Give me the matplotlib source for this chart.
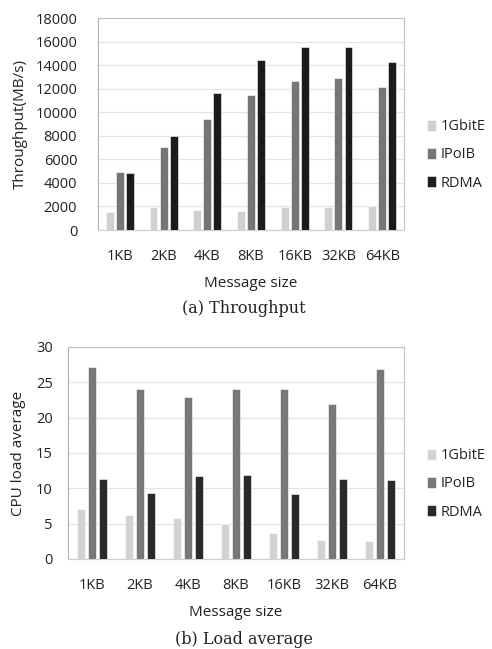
import matplotlib
matplotlib.use("Agg")
import matplotlib.pyplot as plt
import numpy as np

categories = ["1KB", "2KB", "4KB", "8KB", "16KB", "32KB", "64KB"]
series_names = ["1GbitE", "IPoIB", "RDMA"]

thr_1gbite = [1500, 1980, 1700, 1600, 1980, 1980, 2040]
thr_ipoib = [4900, 7080, 9460, 11470, 12630, 12890, 12150]
thr_rdma = [4850, 7990, 11590, 14400, 15500, 15500, 14280]

load_1gbite = [7.07, 6.26, 5.84, 4.9, 3.67, 2.68, 2.54]
load_ipoib = [27.2, 24.0, 22.9, 24.0, 24.1, 21.9, 26.9]
load_rdma = [11.26, 9.37, 11.73, 11.82, 9.18, 11.26, 11.16]

colors_a = ["#d0d0d0", "#767676", "#1b1b1b"]
colors_b = ["#d3d3d3", "#777777", "#2a2a2a"]

plt.rcParams['font.family'] = ['Open Sans', 'DejaVu Sans']

fig = plt.figure(figsize=(4.92, 6.49), dpi=100)
ax1 = fig.add_axes([98/492, 1-230/649, 306/492, 212/649])
ax2 = fig.add_axes([68/492, 1-559/649, 336/492, 212/649])

def draw(ax, data, colors, ylim, yticks, ylabel, ypad, legend_x, legend_y, ylabel_x):
    x = np.arange(len(categories))
    w = 0.18
    off = 0.23
    handles = []
    for i, (vals, c) in enumerate(zip(data, colors)):
        h = ax.bar(x + (i-1)*off, vals, width=w, color=c, edgecolor='white',
                   linewidth=0.4, zorder=3, label=series_names[i])
        handles.append(h)
    ax.set_xlim(-0.5, len(categories)-0.5)
    ax.set_ylim(*ylim)
    ax.set_yticks(yticks)
    ax.set_xticks(x)
    ax.set_xticklabels(categories)
    ax.tick_params(axis='both', length=0, labelsize=10.5, colors='#222222')
    ax.tick_params(axis='x', pad=14)
    ax.tick_params(axis='y', pad=ypad)
    ax.grid(axis='y', color='#e4e4e4', linewidth=0.9, zorder=0)
    for s in ['top', 'right']:
        ax.spines[s].set_color('#c0c0c0')
        ax.spines[s].set_linewidth(0.8)
    ax.spines['left'].set_color('#b0b0b0')
    ax.spines['left'].set_linewidth(0.8)
    ax.spines['bottom'].set_color('#d0d0d0')
    ax.spines['bottom'].set_linewidth(0.9)
    ax.set_xlabel("Message size", fontsize=11, color='#222222', labelpad=8)
    ax.set_ylabel(ylabel, fontsize=11, color='#222222')
    ax.yaxis.set_label_coords(ylabel_x, 0.5)
    ax.legend(handles=handles, loc='center left', bbox_to_anchor=(legend_x, legend_y),
              frameon=False, fontsize=10.5, handlelength=0.6, handleheight=0.75,
              handletextpad=0.3, labelspacing=0.9, borderpad=0, labelcolor='#222222')

draw(ax1, [thr_1gbite, thr_ipoib, thr_rdma], colors_a, (0, 18000),
     np.arange(0, 18001, 2000), "Throughput(MB/s)", 15, 1 + 16/306, 0.354, -70/306)
draw(ax2, [load_1gbite, load_ipoib, load_rdma], colors_b, (0, 30),
     np.arange(0, 31, 5), "CPU load average", 11, 1 + 16/336, 0.354, -42/336)

fig.text(0.495, 1-313/649, "(a) Throughput", ha='center', va='baseline',
         fontsize=11.5, family=['DejaVu Serif'], color='#222222')
fig.text(0.495, 1-644/649, "(b) Load average", ha='center', va='baseline',
         fontsize=11.5, family=['DejaVu Serif'], color='#222222')

fig.savefig("out.png", dpi=100, facecolor='white')
